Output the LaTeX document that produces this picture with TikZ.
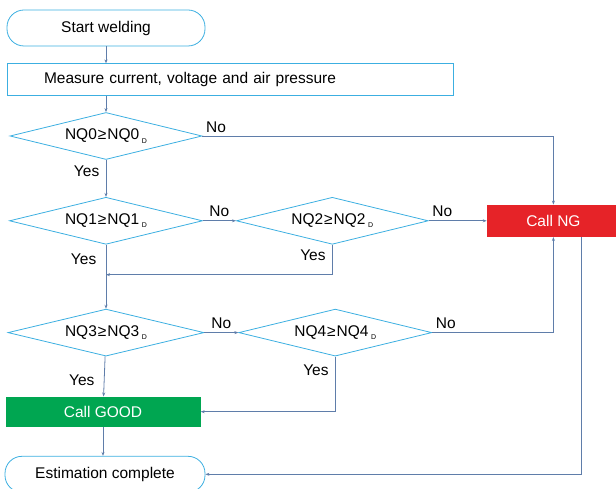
\documentclass[tikz,border=0pt]{standalone}
\usepackage{fontspec}
\setmainfont{Liberation Sans}
\usetikzlibrary{positioning,shapes.geometric,arrows.meta}
\definecolor{edgeblue}{RGB}{60,175,225}
\definecolor{linegray}{RGB}{95,125,170}
\definecolor{ngred}{RGB}{230,35,40}
\definecolor{goodgreen}{RGB}{0,166,81}
\newcommand{\dsub}[1]{\,\raisebox{-0.4ex}{\fontsize{7}{7}\selectfont #1}}
\newcommand{\geqsym}{\kern1pt≥\kern1pt}

\begin{document}
\begin{tikzpicture}[x=1pt,y=-1pt,font=\fontsize{15.5}{18}\selectfont,
		term/.style={draw=edgeblue,line width=0.8pt,rounded corners=17pt,minimum width=198pt,minimum height=36pt},
		box/.style={draw=edgeblue,line width=0.8pt,minimum height=32pt},
		decision/.style={draw=edgeblue,line width=0.8pt,diamond,aspect=4,inner sep=0pt,minimum width=193pt,minimum height=47pt},
		ngbox/.style={fill=ngred,text=white,minimum width=133pt,minimum height=32pt},
		goodbox/.style={fill=goodgreen,text=white,minimum width=195pt,minimum height=30pt},
		line/.style={draw=linegray,line width=0.8pt},
		>={Stealth[length=4pt,width=3pt]}]
		\useasboundingbox (0,0) rectangle (616,489);
		\node [term]                                        (start)   at (106,28) {Start welding};
		\node [box,below=17pt of start.south west,anchor=north west,
		       text width=372pt,inner xsep=37pt,align=left]   (measure) {Measure current, voltage and air pressure};
		\node [decision,minimum width=192pt]                (nq0)     at (106,136) {NQ0\geqsym NQ0\dsub{D}};
		\node [decision,below=37pt of nq0]                  (nq1)     {NQ1\geqsym NQ1\dsub{D}};
		\node [decision,minimum width=192pt,right=33pt of nq1] (nq2)  {NQ2\geqsym NQ2\dsub{D}};
		\node [ngbox,right=58pt of nq2]                     (ng)      {Call NG};
		\node [decision,minimum width=196pt,below=64pt of nq1] (nq3)  {NQ3\geqsym NQ3\dsub{D}};
		\node [decision,right=34pt of nq3]                  (nq4)     {NQ4\geqsym NQ4\dsub{D}};
		\node [goodbox,below=40pt of nq3,xshift=-3pt]       (good)    {Call GOOD};
		\node [term,minimum width=200pt,below=29pt of good,xshift=2pt] (est) {Estimation complete};
		\path (nq1.south) ++(0,30) coordinate (merge);

		\draw [line,->] (start) -- (start|-measure.north);
		\draw [line,->] (nq0|-measure.south) -- (nq0);
		\draw [line,->] (nq0.east) -| node[pos=0,above right]{No} (ng.north);
		\draw [line,->] (nq0) -- node[pos=0.3,left=3pt]{Yes} (nq1);
		\draw [line,->] (nq1) -- node[above]{No} (nq2);
		\draw [line,->] (nq2) -- node[pos=0,above right]{No} (ng);
		\draw [line,->] (nq2.south) |- node[pos=0.17,left=3pt]{Yes} (merge);
		\draw [line,->] (nq1) -- node[pos=0.23,left=6pt]{Yes} (nq3);
		\draw [line,->] (nq3) -- node[above]{No} (nq4);
		\draw [line,->] (nq4.east) -| node[pos=0,above right]{No} (ng.south);
		\draw [line,->] (nq3) -- node[pos=0.6,left=6pt]{Yes} (good);
		\draw [line,->] (nq4.south) |- node[pos=0.12,left=3pt]{Yes} (good.east);
		\draw [line,->] (good) -- (good|-est.north);
		\draw [line,->] ([xshift=-39pt]ng.south east) |- (est.east);
	\end{tikzpicture}
\end{document}
